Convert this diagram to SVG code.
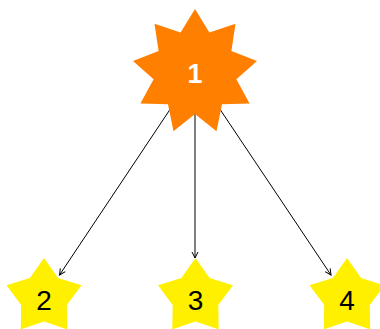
<svg xmlns="http://www.w3.org/2000/svg" width="380" height="329" viewBox="0 0 380 329">
<style>
.edge{stroke:#000;stroke-width:1;fill:none}
.big{fill:#FF8000}
.small{fill:#FFF000}
.t{font-family:"Liberation Sans",Arial,sans-serif;text-anchor:middle}
.t1{fill:#fff;font-weight:bold;font-size:27px}
.t2{fill:#000;font-size:28px}
</style>
<defs>
<marker id="arr" markerWidth="8" markerHeight="8" refX="7" refY="4" orient="auto" markerUnits="userSpaceOnUse">
<path d="M1,1 L7,4 L1,7" fill="none" stroke="#000" stroke-width="1"/>
</marker>
<polygon id="s5" points="0,-39.4 14.1,-19.4 37.5,-12.2 22.8,7.4 23.2,31.9 0,24 -23.2,31.9 -22.8,7.4 -37.5,-12.2 -14.1,-19.4"/>
</defs>
<g id="edges">
<line class="edge" x1="195" y1="72" x2="59.5" y2="275" marker-end="url(#arr)"/>
<line class="edge" x1="195" y1="72" x2="195" y2="258" marker-end="url(#arr)"/>
<line class="edge" x1="195" y1="72" x2="331" y2="275" marker-end="url(#arr)"/>
</g>
<g id="n1">
<polygon class="big" points="195,9 209.4,32.5 235.5,23.7 231.4,51 257,61.1 236.4,79.3 249.6,103.5 222,104.2 216.5,131.2 195,114 173.5,131.2 168,104.2 140.4,103.5 153.6,79.3 133,61.1 158.6,51 154.5,23.7 180.6,32.5"/>
<text class="t t1" x="195" y="83">1</text>
</g>
<g id="n2">
<use href="#s5" class="small" transform="translate(44,297.5)"/>
<text class="t t2" x="44" y="310">2</text>
</g>
<g id="n3">
<use href="#s5" class="small" transform="translate(195.5,297.5)"/>
<text class="t t2" x="195.5" y="310">3</text>
</g>
<g id="n4">
<use href="#s5" class="small" transform="translate(347,297.5)"/>
<text class="t t2" x="347" y="310">4</text>
</g>
</svg>
